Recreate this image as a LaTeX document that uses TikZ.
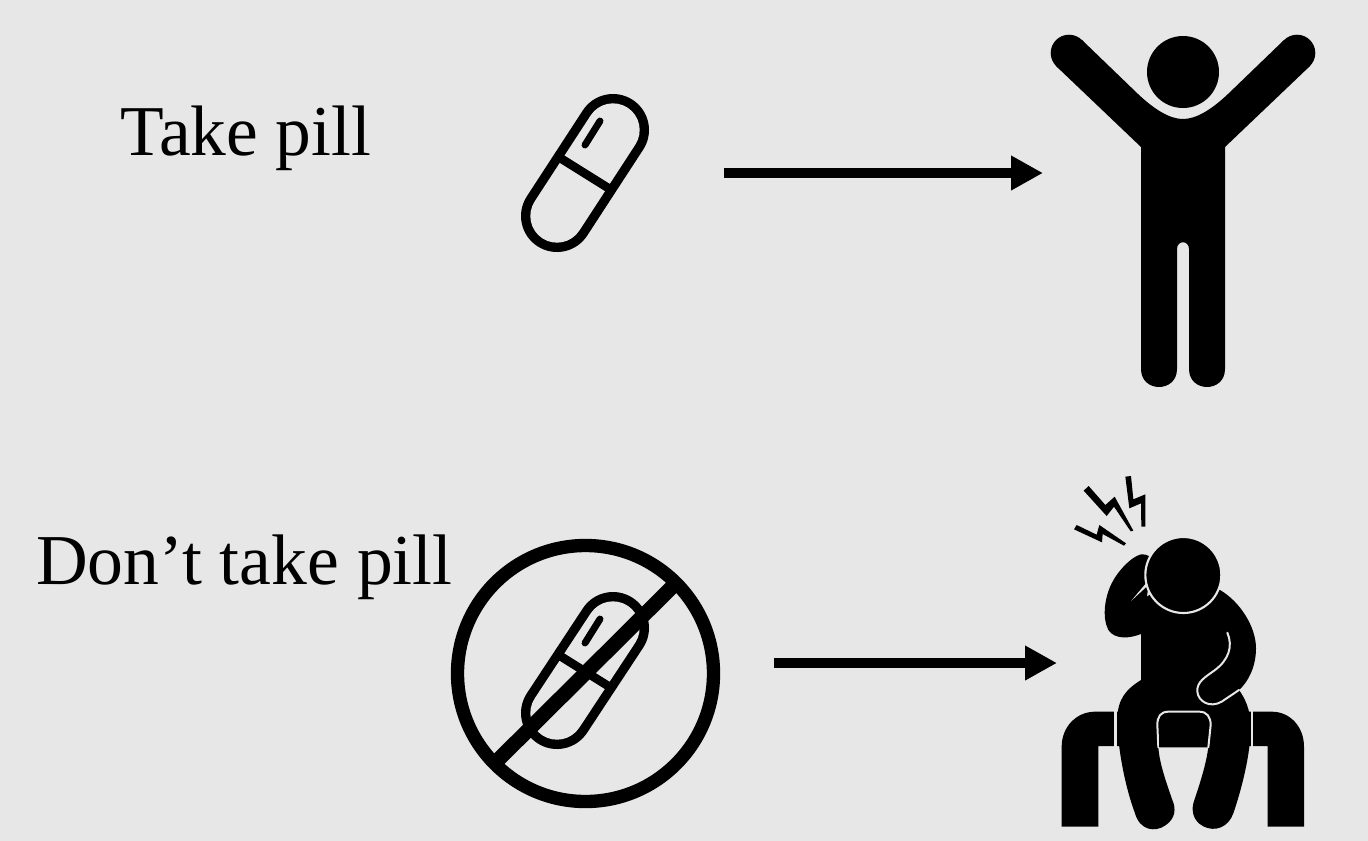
\documentclass[tikz,border=0pt]{standalone}
\usepackage{fontspec}
\setmainfont{Liberation Serif}
\usetikzlibrary{arrows.meta}
\definecolor{bgc}{HTML}{E7E7E7}
\tikzset{
  label text/.style={anchor=base west,inner sep=0pt,text=black},
  flow/.style={line width=7.5pt,-{Triangle[length=24pt,width=24.5pt]}},
  ink/.style={fill=black,draw=none},
  haloline/.style={draw=bgc,line width=1.5pt,line cap=round},
  capsule out/.style={line width=54pt,line cap=round,draw=black},
  capsule in/.style={line width=40pt,line cap=round,draw=bgc},
  capsule mark/.style={line width=6.5pt,draw=black},
  capsule glint/.style={line width=5.2pt,line cap=round,draw=black}
}
\begin{document}
\begin{tikzpicture}[x=.75pt,y=-.75pt]
\useasboundingbox (0,0) rectangle (1368,840);
\fill[bgc] (-6,-6) rectangle (1374,846);

% labels
\node[label text,font=\fontsize{53.6}{60}\selectfont] (take) at (120,155) {Take pill};
\node[label text,font=\fontsize{53.7}{60}\selectfont] (donttake) at (36,584) {Don’t take pill};

% pill
\draw[capsule out] (613,130) -- (557,216);
\draw[capsule in] (613,130) -- (557,216);
\draw[capsule mark] (557,156) -- (613,191);
\draw[capsule glint] (585,145) -- (600,121);

% prohibited pill
\draw[capsule out] (613,628) -- (557,713);
\draw[capsule in] (613,628) -- (557,713);
\draw[capsule mark] (557,654) -- (613,689);
\draw[capsule glint] (585,643) -- (600,619);
\draw[line width=10pt,draw=black] (585.5,673.5) circle[radius=128];
\draw[line width=11pt,draw=black] (498,760) -- (673,586);

% arrows
\coordinate (a1s) at (724,173);
\coordinate (a1e) at (1043,173);
\coordinate (a2s) at (774,663);
\coordinate (a2e) at (1057,663);
\draw[flow] (a1s) -- (a1e);
\draw[flow] (a2s) -- (a2e);

% happy person
\fill[ink] (1183,72) circle[radius=36];
\fill[ink] (1069,53) circle[radius=18.3];
\fill[ink] (1297,53) circle[radius=18.3];
\fill[ink] (1141,147) -- (1056,66) -- (1082,40)
  -- (1138,94) .. controls (1155,110) and (1170,119) .. (1183,119)
  .. controls (1196,119) and (1211,110) .. (1228,94)
  -- (1284,40) -- (1310,66)
  -- (1225,147) -- (1225,369) .. controls (1225,393) and (1189,393) .. (1189,369)
  -- (1189,249) .. controls (1189,240) and (1177,240) .. (1177,249)
  -- (1177,369) .. controls (1177,393) and (1141,393) .. (1141,369) -- cycle;

% suffering person (coordinates in 1/3 px)
\begin{scope}[shift={(1040,460)},x=.25pt,y=-.25pt]
  % bench
  \fill[ink] (65,1100) -- (65,860) .. controls (65,800) and (110,755) .. (165,755)
    -- (695,755) .. controls (750,755) and (792,800) .. (792,860)
    -- (792,1100) -- (683,1100) -- (683,858) -- (175,858) -- (175,1100) -- cycle;
  % raised arm
  \fill[ink] (303,283) .. controls (340,280) and (355,320) .. (330,350)
    -- (303,522) .. controls (270,535) and (225,540) .. (205,510)
    .. controls (185,470) and (195,410) .. (215,370)
    .. controls (235,330) and (275,290) .. (303,283) -- cycle;
  % halo of the legs against the bench
  \draw[draw=bgc,line width=2.5pt] (227,750) -- (227,862);
  \draw[draw=bgc,line width=2pt] (636,750) -- (636,862);
  % body and legs
  \fill[ink] (303,420) -- (303,660) .. controls (255,690) and (232,720) .. (232,780)
    .. controls (232,860) and (255,980) .. (285,1060)
    .. controls (300,1112) and (345,1117) .. (375,1097)
    .. controls (408,1075) and (408,1045) .. (397,1020)
    .. controls (385,985) and (357,910) .. (355,860)
    -- (505,860)
    .. controls (500,910) and (475,985) .. (463,1020)
    .. controls (452,1050) and (458,1082) .. (490,1099)
    .. controls (525,1117) and (565,1102) .. (580,1060)
    .. controls (607,980) and (632,880) .. (632,800)
    .. controls (632,750) and (615,715) .. (597,690)
    .. controls (625,665) and (648,620) .. (648,565)
    .. controls (648,500) and (600,425) .. (540,390)
    -- (430,345) -- cycle;
  % seat visible between the legs
  \filldraw[fill=black,draw=bgc,line width=1.5pt,line cap=round] (355,862) -- (352,795) .. controls (352,770) and (362,755) .. (385,755)
    -- (478,755) .. controls (500,755) and (512,770) .. (512,795) -- (505,862);
  \fill[ink] (358,860) rectangle (500,790);
  % gap between lowered arm and body
  \draw[haloline] (562,518) .. controls (580,560) and (565,600) .. (525,630)
    .. controls (495,652) and (470,665) .. (472,695)
    .. controls (475,725) and (510,745) .. (545,725)
    -- (597,690);
  % gap between raised hand and head
  \draw[haloline] (340,295) .. controls (352,320) and (345,340) .. (325,362);
  \fill[bgc] (328,358) -- (322,378) -- (274,422) -- cycle;
  % head
  \filldraw[fill=black,draw=bgc,line width=1.6pt] (430,345) circle[radius=114];
  % bolts
  \fill[ink] (131,92) -- (146,78) -- (196,135) -- (224,110) -- (280,212) -- (272,214) -- (222,140) -- (200,168) -- cycle;
  \fill[ink] (256,50) -- (273,48) -- (280,118) -- (316,103) -- (316,200) -- (304,200) -- (303,130) -- (268,145) -- cycle;
  \fill[ink] (102,208) -- (110,195) -- (170,224) -- (178,195) -- (258,250) -- (252,257) -- (188,222) -- (186,247) -- cycle;
\end{scope}
\end{tikzpicture}
\end{document}
